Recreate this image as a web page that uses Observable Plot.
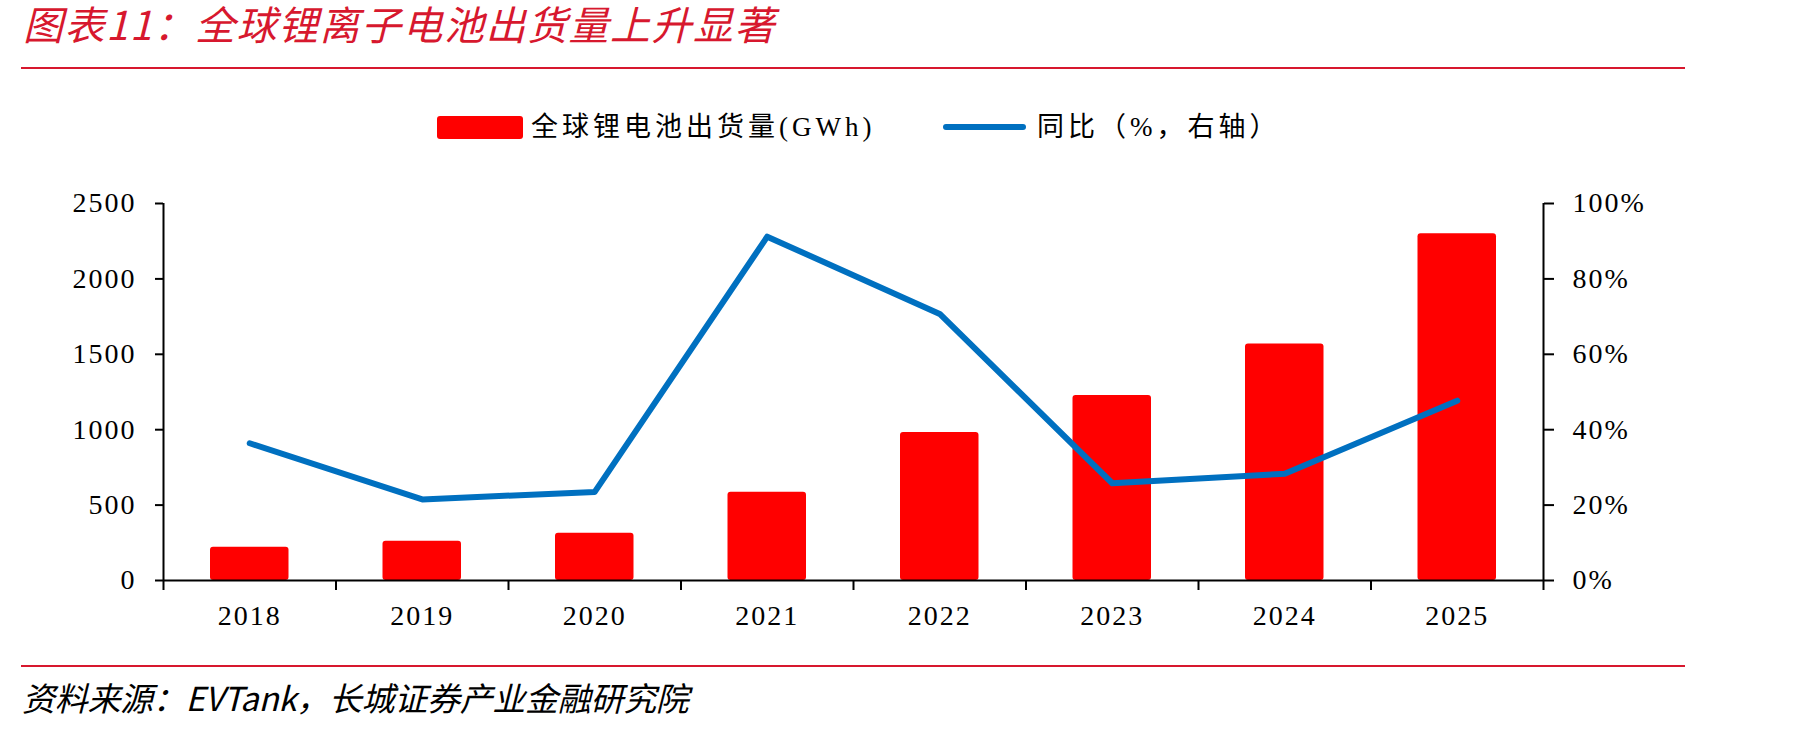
<!DOCTYPE html>
<html>
<head>
<meta charset="utf-8">
<script src="https://cdn.jsdelivr.net/npm/d3@7"></script>
<script src="https://cdn.jsdelivr.net/npm/@observablehq/plot@0.6"></script>
<style>
  body { margin: 0; background: #fff; }
  #page { position: relative; width: 1807px; height: 731px; overflow: hidden; background: #fff; }
  .abs { position: absolute; }
  #title { left: 23px; top: 0px; font: italic 40px "Noto Sans CJK SC"; color: #d7182e; letter-spacing: 1.5px; line-height: 46px; white-space: nowrap; }
  .rule { left: 21px; width: 1664px; height: 2px; background: #d7182e; }
  #src { left: 22px; top: 677px; font: italic 33px "Noto Sans CJK SC"; color: #000; letter-spacing: -0.3px; line-height: 40px; white-space: nowrap; }
  .leg { font-size: 27px; font-family: "Liberation Serif", "Noto Sans CJK SC"; letter-spacing: 4px; line-height: 1; white-space: nowrap; color: #000; }
  #chart { left: 0; top: 150px; }
  #chart svg text { letter-spacing: 2px; }
</style>
</head>
<body>
<div id="page">
  <div id="title" class="abs">图表11：全球锂离子电池出货量上升显著</div>
  <div class="abs rule" style="top:67px"></div>
  <div class="abs" style="left:437px;top:116px;width:86px;height:23px;background:#ff0000;border-radius:3px"></div>
  <div class="abs leg" style="left:531px;top:114px">全球锂电池出货量(GWh)</div>
  <div class="abs" style="left:943px;top:124px;width:83px;height:6px;background:#0070c0;border-radius:3px"></div>
  <div class="abs leg" style="left:1037px;top:114px">同比（%，右轴）</div>
  <div id="chart" class="abs"></div>
  <div class="abs rule" style="top:665px"></div>
  <div id="src" class="abs">资料来源：EVTank，长城证券产业金融研究院</div>
</div>
<script>
const years = ["2018", "2019", "2020", "2021", "2022", "2023", "2024", "2025"];
const shipments = [221, 261, 314, 586, 981, 1227, 1569, 2299]; // GWh
const yoy = [36.4, 21.5, 23.5, 91.2, 70.7, 25.8, 28.3, 47.7]; // %
const leftTicks = [0, 500, 1000, 1500, 2000, 2500];
const rightTicks = [0, 20, 40, 60, 80, 100];

const leftMax = 2500, rightMax = 100;
const k = leftMax / rightMax; // map right-axis % onto left scale

const rows = years.map((year, i) => ({ year, i, gwh: shipments[i], yoy: yoy[i] }));
const boundaries = years.map((_, i) => i).concat(years.length);
const centers = years.map((_, i) => i + 0.5);

const chart = Plot.plot({
  width: 1807,
  height: 490,
  marginTop: 53,
  marginBottom: 60,
  marginLeft: 163,
  marginRight: 264,
  x: { domain: [0, years.length], label: null },
  y: { domain: [0, leftMax], label: null },
  style: { fontFamily: "Liberation Serif", fontSize: "28px", color: "#000", background: "#fff" },
  marks: [
    Plot.rectY(rows, { x1: "i", x2: d => d.i + 1, y: "gwh", fill: "#ff0000", insetLeft: 47, insetRight: 47, rx: 3 }),
    Plot.line(rows, { x: d => d.i + 0.5, y: d => d.yoy * k, stroke: "#0070c0", strokeWidth: 6, strokeLinecap: "round", strokeLinejoin: "round" }),
    Plot.ruleX([0], { stroke: "#000", strokeWidth: 2 }),
    Plot.ruleX([years.length], { stroke: "#000", strokeWidth: 2 }),
    Plot.ruleY([0], { stroke: "#000", strokeWidth: 2 }),
    Plot.axisY({ ticks: leftTicks, tickSize: 8, tickPadding: 19, strokeWidth: 2, label: null, tickFormat: d => String(d) }),
    Plot.axisY({ anchor: "right", ticks: rightTicks.map(p => p * k), tickFormat: v => `${Math.round(v / k)}%`, tickSize: 10, tickPadding: 19, strokeWidth: 2, label: null }),
    Plot.axisX({ ticks: boundaries, tickFormat: () => "", tickSize: 10, strokeWidth: 2, label: null }),
    Plot.axisX({ ticks: centers, tickFormat: v => years[Math.floor(v)], tickSize: 0, tickPadding: 25, label: null })
  ]
});
document.getElementById("chart").appendChild(chart);
</script>
</body>
</html>
